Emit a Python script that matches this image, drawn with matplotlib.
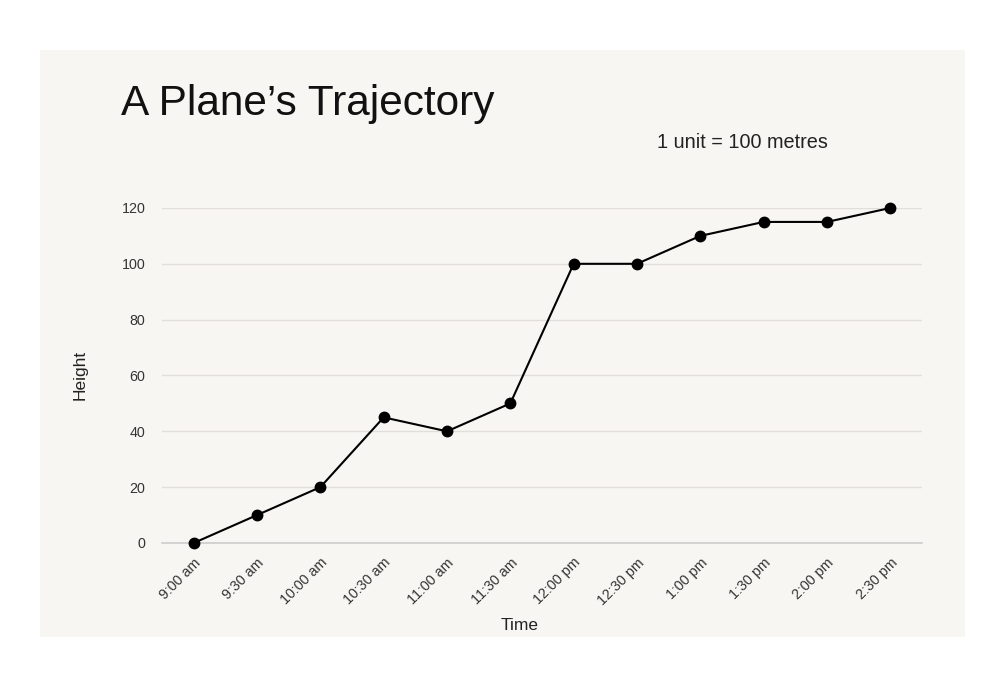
import matplotlib.pyplot as plt
from matplotlib.patches import Rectangle

times = ["9:00 am", "9:30 am", "10:00 am", "10:30 am", "11:00 am", "11:30 am",
         "12:00 pm", "12:30 pm", "1:00 pm", "1:30 pm", "2:00 pm", "2:30 pm"]
heights = [0, 10, 20, 45, 40, 50, 100, 100, 110, 115, 115, 120]
yticks = [0, 20, 40, 60, 80, 100, 120]

plt.rcParams["font.family"] = ["Liberation Sans", "DejaVu Sans"]

bg = "#f8f6f2"
fig = plt.figure(figsize=(10.04, 6.83), dpi=100)
fig.patch.set_facecolor("white")
fig.patches.append(Rectangle((0.0398, 0.0673), 0.921, 0.859, transform=fig.transFigure,
                             facecolor=bg, edgecolor="none", zorder=-10))

ax = fig.add_axes([0.1614, 0.205, 0.7569, 0.4905])
ax.set_facecolor(bg)
x = range(len(times))
ax.plot(x, heights, color="black", lw=1.5, marker="o", markersize=7.5, clip_on=False, zorder=3)

ax.set_xlim(-0.5, len(times) - 0.5)
ax.set_ylim(0, 120)
ax.set_yticks(yticks)
ax.set_xticks(list(x))
ax.set_xticklabels(times, rotation=45, ha="right", rotation_mode="anchor")
ax.tick_params(axis="both", length=0, labelsize=10.3, labelcolor="#333333")
ax.tick_params(axis="y", pad=12)
ax.tick_params(axis="x", pad=9)
ax.grid(axis="y", color="#e2dfda", lw=1)
ax.set_axisbelow(True)
for s in ["top", "right", "left"]:
    ax.spines[s].set_visible(False)
ax.spines["bottom"].set_color("#cccccc")
ax.spines["bottom"].set_linewidth(1.2)

fig.text(0.5179, 1 - 626 / 683, "Time", ha="center", va="center", fontsize=12.5, color="#222222")
fig.text(0.0797, 1 - 375 / 683, "Height", ha="center", va="center", rotation=90, fontsize=12.5, color="#222222")
fig.text(0.121, 1 - 104 / 683, "A Plane\u2019s Trajectory", ha="left", va="center", fontsize=30.5, color="#111111")
fig.text(0.6545, 1 - 142 / 683, "1 unit = 100 metres", ha="left", va="center", fontsize=14.3, color="#222222")

fig.savefig("out.png", dpi=100)
